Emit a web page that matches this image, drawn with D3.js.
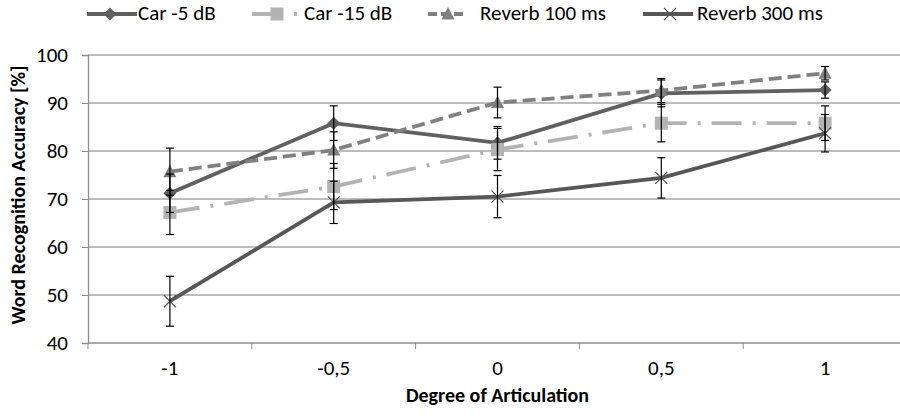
<!DOCTYPE html>
<html>
<head>
<meta charset="utf-8">
<script src="https://cdn.jsdelivr.net/npm/d3@7"></script>
<style>
  body { margin: 0; background: #fff; }
  svg text { font-family: Carlito, "Liberation Sans Narrow", "DejaVu Sans Condensed", sans-serif; fill: #000; }
</style>
</head>
<body>
<div id="chart"></div>
<script>
// values
var categories = ["-1", "-0,5", "0", "0,5", "1"];
var yTicks = [40, 50, 60, 70, 80, 90, 100];

var car5 = [71.2, 85.8, 81.7, 92.0, 92.7];
var car5Err = [4.0, 3.6, 3.4, 2.8, 1.7];
var car15 = [67.2, 72.6, 80.3, 85.8, 85.8];
var car15Err = [4.6, 4.8, 4.4, 3.9, 3.6];
var rev100 = [75.7, 80.2, 90.1, 92.6, 96.2];
var rev100Err = [4.9, 3.8, 3.2, 2.5, 1.4];
var rev300 = [48.7, 69.3, 70.5, 74.4, 83.7];
var rev300Err = [5.2, 4.4, 4.4, 4.2, 3.9];

var seriesNames = ["Car -5 dB", "Car -15 dB", "Reverb 100 ms", "Reverb 300 ms"];

var width = 900, height = 416;
var margin = {top: 55, right: -7, bottom: 73, left: 88};
var fontSize = "21px", titleSize = "20px";

var series = [
  {name: seriesNames[0], values: car5, err: car5Err, color: "#606060", dash: null, marker: "diamond"},
  {name: seriesNames[1], values: car15, err: car15Err, color: "#b3b3b3", dash: "30,11,3,11", marker: "square"},
  {name: seriesNames[2], values: rev100, err: rev100Err, color: "#808080", dash: "13,6", marker: "triangle"},
  {name: seriesNames[3], values: rev300, err: rev300Err, color: "#575757", dash: null, marker: "x"}
];

var svg = d3.select("#chart").append("svg")
  .attr("width", width)
  .attr("height", height);

var x = d3.scaleBand()
  .domain(categories)
  .range([margin.left, width - margin.right]);

var y = d3.scaleLinear()
  .domain([40, 100])
  .range([height - margin.bottom, margin.top]);

//gridlines
svg.append("g").selectAll("line")
  .data(yTicks.slice(1))
  .enter().append("line")
  .attr("x1", margin.left)
  .attr("x2", width)
  .attr("y1", function(d) { return y(d); })
  .attr("y2", function(d) { return y(d); })
  .attr("stroke", "#a6a6a6")
  .attr("stroke-width", 1.3);

// y axis
var yAxis = svg.append("g")
  .attr("transform", "translate(" + margin.left + ",0)")
  .call(d3.axisLeft(y).tickValues(yTicks).tickSize(6).tickPadding(14));
yAxis.selectAll("text").style("font-size", fontSize);

// x axis, ticks at band edges
var xAxis = svg.append("g")
  .attr("transform", "translate(0," + y(40) + ")")
  .call(d3.axisBottom(x).tickSize(0).tickPadding(17));
xAxis.selectAll("text").style("font-size", fontSize);
xAxis.selectAll(".tick").append("line")
  .attr("x1", -x.bandwidth() / 2)
  .attr("x2", -x.bandwidth() / 2)
  .attr("y2", 6)
  .attr("stroke", "#8c8c8c");
svg.selectAll(".domain").attr("stroke", "#8c8c8c").attr("stroke-width", 1.3);
svg.selectAll(".tick line").attr("stroke", "#8c8c8c");
xAxis.select(".domain").attr("d", "M" + margin.left + ",0H" + width);

function cx(i) { return x(categories[i]) + x.bandwidth() / 2; }

var line = d3.line()
  .x(function(d, i) { return cx(i); })
  .y(function(d) { return y(d); });

// lines
series.forEach(function(s) {
  svg.append("path")
    .datum(s.values)
    .attr("d", line)
    .attr("fill", "none")
    .attr("stroke", s.color)
    .attr("stroke-width", 3.8)
    .attr("stroke-dasharray", s.dash);
});

function drawMarker(g, type, color) {
  if (type == "diamond") {
    g.append("path").attr("d", "M0,-6.5L6.5,0L0,6.5L-6.5,0Z").attr("fill", color);
  } else if (type == "square") {
    g.append("rect").attr("x", -6.5).attr("y", -6.5).attr("width", 13).attr("height", 13).attr("fill", color);
  } else if (type == "triangle") {
    g.append("path").attr("d", "M0,-7L6.5,5.5L-6.5,5.5Z").attr("fill", color);
  } else {
    g.append("path").attr("d", "M-6,-6L6,6M-6,6L6,-6").attr("stroke", color).attr("stroke-width", 1.2);
  }
}

// markers
series.forEach(function(s) {
  s.values.forEach(function(v, i) {
    var g = svg.append("g").attr("transform", "translate(" + cx(i) + "," + y(v) + ")");
    drawMarker(g, s.marker, s.color);
  });
});

// error bars on top
series.forEach(function(s) {
  s.values.forEach(function(v, i) {
    var xx = cx(i), top = y(v + s.err[i]), bot = y(v - s.err[i]);
    var eb = svg.append("g").attr("stroke", "#000").attr("stroke-width", 1.2);
    eb.append("line").attr("x1", xx).attr("x2", xx).attr("y1", top).attr("y2", bot);
    eb.append("line").attr("x1", xx - 4).attr("x2", xx + 4).attr("y1", top).attr("y2", top);
    eb.append("line").attr("x1", xx - 4).attr("x2", xx + 4).attr("y1", bot).attr("y2", bot);
  });
});

// axis titles
svg.append("text")
  .attr("transform", "translate(25,195) rotate(-90)")
  .attr("text-anchor", "middle")
  .style("font-size", titleSize)
  .style("font-weight", "bold")
  .text("Word Recognition Accuracy [%]");

svg.append("text")
  .attr("x", cx(2))
  .attr("y", 402)
  .attr("text-anchor", "middle")
  .style("font-size", titleSize)
  .style("font-weight", "bold")
  .text("Degree of Articulation");

// legend: start of the sample line, line length, marker offset, text offset
var legendX = [87, 252, 428, 643];
var legendLen = [50, 50, 39, 50];
var legendMark = [23, 25, 20, 27];
var legendText = [51, 52, 52, 54];
var legendDash = [null, "31,11,3,40", "9,4", null];
series.forEach(function(s, i) {
  var lg = svg.append("g").attr("transform", "translate(" + legendX[i] + ",14)");
  lg.append("line")
    .attr("x1", 0).attr("x2", legendLen[i])
    .attr("stroke", s.color)
    .attr("stroke-width", 3.8)
    .attr("stroke-dasharray", legendDash[i]);
  drawMarker(lg.append("g").attr("transform", "translate(" + legendMark[i] + ",0)"), s.marker, s.color);
  lg.append("text")
    .attr("x", legendText[i])
    .attr("y", 6)
    .style("font-size", fontSize)
    .text(s.name);
});
</script>
</body>
</html>
